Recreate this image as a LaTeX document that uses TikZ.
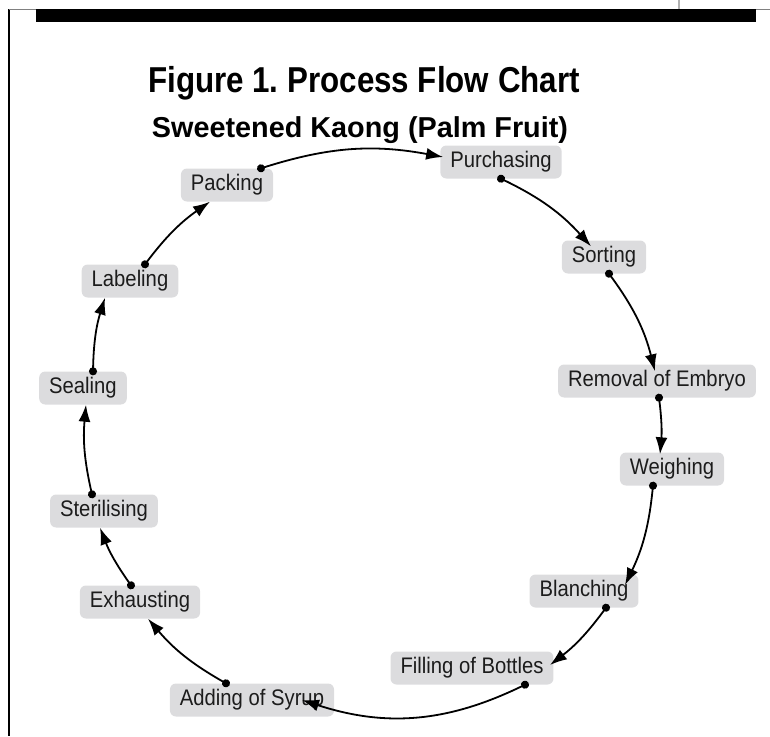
\documentclass[tikz,border=0pt]{standalone}
\usepackage{fontspec}
\setmainfont{Liberation Sans}
\newfontfamily\stagefont[FakeStretch=0.9]{Liberation Sans}
\newfontfamily\headfont[FakeStretch=0.87]{Liberation Sans}
\usetikzlibrary{arrows.meta}
\usetikzlibrary{calc}
\tikzset{>={Latex[length=17pt,width=12pt]}}
\definecolor{boxgray}{RGB}{220,220,222}
\definecolor{inkgray}{RGB}{28,28,28}
\tikzset{
  stage/.style={fill=boxgray, rounded corners=6pt, inner xsep=10pt, inner ysep=6pt,
    text height=16pt, text depth=5pt, text=inkgray, font=\stagefont\fontsize{22.5}{27}\selectfont},
  flow/.style={line width=1.8pt, {Circle[length=8pt]}->, shorten <=-4pt},
}
\frenchspacing

\begin{document}
\begin{tikzpicture}[x=1pt, y=1pt]
    \useasboundingbox (0,0) rectangle (770,-736);
    % page frame
    \draw[line width=1.5pt] (9,-9) -- (9,-736);
    \draw[gray, line width=1pt] (9,-9) -- (770,-9);
    \fill (36,-9) rectangle (756,-22);
    \draw[gray!60, line width=2pt] (679,0) -- (679,-9);

    \node[anchor=base] (title) at (364,-92) {\headfont\bfseries\fontsize{36}{42}\selectfont Figure 1. Process Flow Chart};
    \node[anchor=base] (subtitle) at (360,-137) {\bfseries\fontsize{28.8}{34}\selectfont Sweetened Kaong (Palm Fruit)};

    \begin{scope}[every node/.style={stage}]
      \node (purchasing) at (501,-162) {Purchasing};
      \node (sorting) at (604,-257) {Sorting};
      \node (removal) at (657,-381) {Removal of Embryo};
      \node (weighing) at (672,-469) {Weighing};
      \node (blanching) at (584,-591) {Blanching};
      \node (filling) at (472,-668) {Filling of Bottles};
      \node (adding) at (252,-700) {Adding of Syrup};
      \node (exhausting) at (140,-602) {Exhausting};
      \node (sterilising) at (104,-511) {Sterilising};
      \node (sealing) at (83,-388) {Sealing};
      \node (labeling) at (130,-281) {Labeling};
      \node (packing) at (227,-185) {Packing};
    \end{scope}

    \draw[flow] ($(packing.north)+(34,0)$) to[bend left=14] ($(purchasing.west)+(3,5)$);
    \draw[flow] (purchasing.south) to[bend left=11] ($(sorting.north)+(-13,-6)$);
    \draw[flow] ($(sorting.south)+(5,0)$) to[bend left=11] ($(removal.north)+(-2,-7)$);
    \draw[flow] ($(removal.south)+(2,0)$) to[bend left=6] ($(weighing.north)+(-12,-2)$);
    \draw[flow] ($(weighing.south)+(-19,0)$) to[bend left=10] ($(blanching)+(41,6)$);
    \draw[flow] ($(blanching.south)+(22,0)$) to[bend left=8] ($(filling)+(78,3)$);
    \draw[flow] ($(filling.south)+(53,0)$) to[bend left=22] ($(adding)+(50,0)$);
    \draw[flow] ($(adding.north)+(-26,0)$) to[bend left=10] ($(exhausting.south)+(8,0)$);
    \draw[flow] ($(exhausting.north)+(-9,0)$) to[bend left=7] ($(sterilising.south)+(-4,0)$);
    \draw[flow] ($(sterilising.north)+(-12,0)$) to[bend left=9] ($(sealing.south)+(3,0)$);
    \draw[flow] ($(sealing.north)+(10,0)$) to[bend left=8] ($(labeling.south)+(-25,0)$);
    \draw[flow] ($(labeling.north)+(15,0)$) to[bend left=9] ($(packing.south)+(-17,0)$);
\end{tikzpicture}
\end{document}
